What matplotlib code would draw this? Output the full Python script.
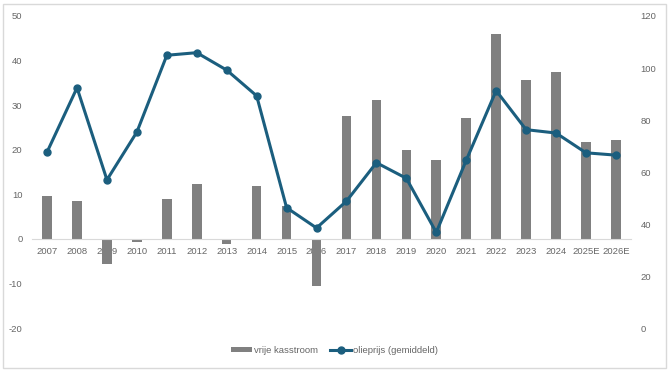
import numpy as np
import matplotlib
matplotlib.use("Agg")
from matplotlib import pyplot as plt
from matplotlib.patches import Rectangle

years = ['2007', '2008', '2009', '2010', '2011', '2012', '2013', '2014', '2015', '2016',
         '2017', '2018', '2019', '2020', '2021', '2022', '2023', '2024', '2025E', '2026E']
# vrije kasstroom (linker as)
kasstroom = [9.7, 8.4, -5.6, -0.7, 8.9, 12.4, -1.1, 11.8, 7.4, -10.5,
             27.6, 31.1, 20.0, 17.6, 27.1, 46.0, 35.7, 37.4, 21.8, 22.2]
# olieprijs gemiddeld (rechter as)
olieprijs = [67.7, 92.4, 57.0, 75.4, 104.9, 105.9, 99.2, 89.3, 46.3, 38.5,
             48.8, 63.6, 57.6, 36.8, 64.5, 91.3, 76.3, 75.0, 67.4, 66.5]

plt.rcParams['font.family'] = ['Liberation Sans', 'DejaVu Sans']
plt.rcParams['axes.unicode_minus'] = False
txt = '#666666'
bar_col = '#808080'
line_col = '#1B5E7E'

fig = plt.figure(figsize=(6.69, 3.72), dpi=100)
fig.patches.append(Rectangle((0.005, 0.012), 0.99, 0.978, transform=fig.transFigure,
                             fill=False, edgecolor='#D9D9D9', lw=1))

ax = fig.add_axes([0.048, 0.118, 0.895, 0.839])
x = np.arange(len(years))
bars = ax.bar(x, kasstroom, width=0.32, color=bar_col, label='vrije kasstroom', zorder=2)
ax.set_xlim(-0.5, len(years) - 0.5)
ax.set_ylim(-20, 50)
ax.set_yticks(range(-20, 51, 10))
ax.set_xticks(x)
ax.set_xticklabels(years)

for s in ['top', 'right', 'left']:
    ax.spines[s].set_visible(False)
ax.spines['bottom'].set_position(('data', 0))
ax.spines['bottom'].set_color('#D9D9D9')
ax.tick_params(axis='both', length=0, labelsize=6.8, colors=txt)
ax.tick_params(axis='x', pad=6)
ax.tick_params(axis='y', pad=7)

ax2 = ax.twinx()
ln, = ax2.plot(x, olieprijs, color=line_col, lw=2.2, marker='o', markersize=5,
               label='olieprijs (gemiddeld)', zorder=3)
ax2.set_ylim(0, 120)
ax2.set_yticks(range(0, 121, 20))
for s in ax2.spines.values():
    s.set_visible(False)
ax2.tick_params(axis='y', length=0, labelsize=6.8, colors=txt, pad=7)

leg = fig.legend([bars, ln], ['vrije kasstroom', 'olieprijs (gemiddeld)'],
                 loc='center', bbox_to_anchor=(0.5, 0.058), ncol=2, frameon=False,
                 fontsize=6.8, handlelength=2.2, handleheight=0.5, columnspacing=1.3,
                 handletextpad=0.25)
for t in leg.get_texts():
    t.set_color(txt)

fig.savefig('out.png', dpi=100)
